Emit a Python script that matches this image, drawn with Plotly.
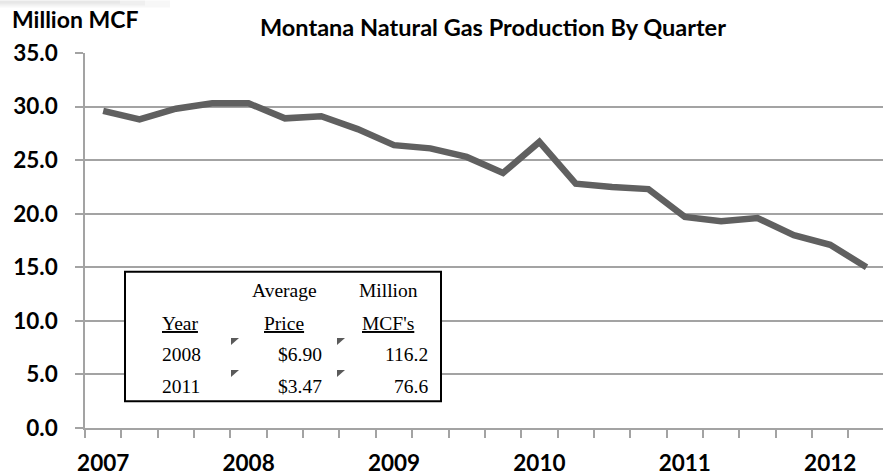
import plotly.graph_objects as go

# Quarterly natural gas production, million MCF (2007 Q1 - 2012 Q2)
quarters = list(range(22))
production = [29.6, 28.8, 29.8, 30.3, 30.3, 28.9, 29.1, 27.9,
              26.4, 26.1, 25.3, 23.8, 26.7, 22.8, 22.5, 22.3,
              19.7, 19.3, 19.6, 18.0, 17.1, 15.0]
year_ticks = [0, 4, 8, 12, 16, 20]
year_labels = ["2007", "2008", "2009", "2010", "2011", "2012"]
y_ticks = [0, 5, 10, 15, 20, 25, 30, 35]

# Summary table contents
table_years = ["2008", "2011"]
table_prices = ["$6.90", "$3.47"]
table_mcf = ["116.2", "76.6"]

W, H = 883, 476
L, T, B = 85, 53, 44
PW, PH = W - L, H - T - B
SPACING = 36.35

def px(x):
    return (x - L) / PW

def py(y):
    return (H - B - y) / PH

GRID = "#a3a3a3"
fig = go.Figure()
fig.add_trace(go.Scatter(
    x=quarters, y=production, mode="lines",
    line=dict(color="#606060", width=6.5), hoverinfo="skip", showlegend=False,
))

bold = dict(family="Lato", size=22.5, color="#000000", weight="bold")

fig.update_layout(
    width=W, height=H,
    margin=dict(l=L, r=0, t=T, b=B, pad=0),
    paper_bgcolor="white", plot_bgcolor="white",
    showlegend=False,
    xaxis=dict(
        range=[-0.5, -0.5 + PW / SPACING],
        tickvals=year_ticks, ticktext=year_labels, ticks="",
        tickfont=bold, showgrid=False, zeroline=False,
        showline=True, linecolor=GRID, linewidth=1.5,
        ticklabelstandoff=14,
        minor=dict(ticks="outside", ticklen=8, tick0=-0.5, dtick=1,
                   tickcolor=GRID, tickwidth=1.5, showgrid=False),
    ),
    yaxis=dict(
        range=[0, 35], tickvals=y_ticks, tickformat=".1f",
        ticks="outside", ticklen=8, tickcolor=GRID, tickwidth=1.5,
        tickfont=bold, showgrid=True, gridcolor=GRID, gridwidth=1.5,
        zeroline=False, showline=True, linecolor=GRID, linewidth=1.5,
        ticklabelstandoff=13,
    ),
)

annotations = [
    dict(text="Million MCF", x=px(10), y=py(19), xanchor="left", yanchor="middle",
         font=dict(family="Lato", size=23, color="#000", weight="bold")),
    dict(text="Montana Natural Gas Production By Quarter", x=px(493), y=py(27),
         xanchor="center", yanchor="middle",
         font=dict(family="Lato", size=23.5, color="#000", weight="bold")),
]

serif = dict(family="Liberation Serif", size=19.5, color="#000")

def cell(text, x, y, anchor):
    return dict(text=text, x=px(x), y=py(y), xanchor=anchor, yanchor="middle", font=serif)

annotations += [
    cell("Average", 284, 293, "center"),
    cell("Million", 388, 293, "center"),
    cell("<u>Year</u>", 180, 326, "center"),
    cell("<u>Price</u>", 284, 326, "center"),
    cell("<u>MCF's</u>", 388, 326, "center"),
]
for i, (yr, pr, mc) in enumerate(zip(table_years, table_prices, table_mcf)):
    yy = 358 + i * 32
    annotations += [cell(yr, 160, yy, "left"), cell(pr, 324, yy, "right"), cell(mc, 430, yy, "right")]

for a in annotations:
    a.update(xref="paper", yref="paper", showarrow=False)
fig.update_layout(annotations=annotations)

shapes = [
    dict(type="rect", xref="paper", yref="paper", x0=px(125), x1=px(441), y0=py(405), y1=py(274),
         line=dict(color="#000", width=2), fillcolor="white", layer="above"),
]
# small cell markers beside the table values
for i in range(2):
    ty = 341 + i * 32.5
    for tx in (231, 337):
        path = (f"M {px(tx)},{py(ty)} L {px(tx + 8)},{py(ty)} L {px(tx)},{py(ty + 7)} Z")
        shapes.append(dict(type="path", xref="paper", yref="paper", path=path,
                           fillcolor="#5a5a5a", line=dict(width=0), layer="above"))
# faint shading in the top-left corner
for k, op in enumerate([0.10, 0.10, 0.12]):
    shapes.append(dict(type="rect", xref="paper", yref="paper",
                       x0=px(0), x1=px(170 - 25 * k), y0=py(7 - 2 * k), y1=py(0),
                       fillcolor="#b0b0b0", opacity=op, line=dict(width=0), layer="above"))
fig.update_layout(shapes=shapes)

fig.write_html("out.html")
